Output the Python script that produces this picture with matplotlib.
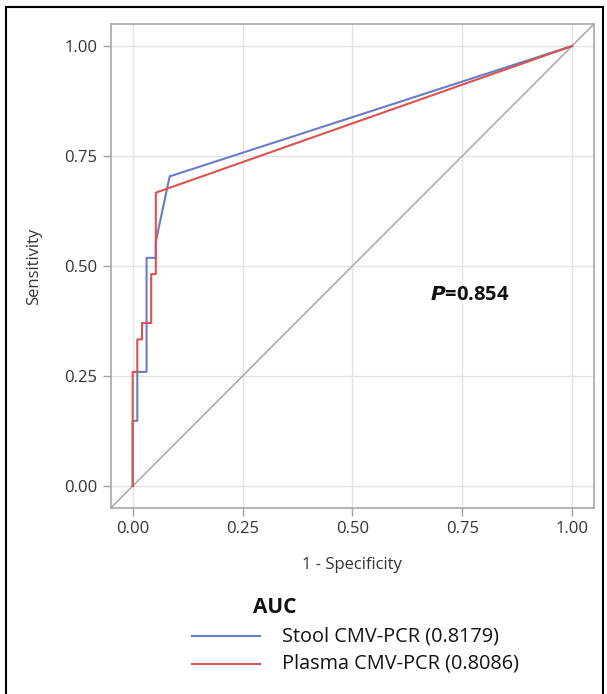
import matplotlib
matplotlib.use('Agg')
import matplotlib.pyplot as plt
from matplotlib.patches import Rectangle

# ROC points (1 - specificity, sensitivity)
stool_fpr = [0.0, 0.0, 0.0105, 0.0105, 0.0316, 0.0316, 0.0526, 0.0526, 0.0842, 1.0]
stool_tpr = [0.0, 0.1481, 0.1481, 0.2593, 0.2593, 0.5185, 0.5185, 0.5556, 0.7037, 1.0]
plasma_fpr = [0.0, 0.0, 0.0105, 0.0105, 0.0211, 0.0211, 0.0421, 0.0421, 0.0526, 0.0526, 1.0]
plasma_tpr = [0.0, 0.2593, 0.2593, 0.3333, 0.3333, 0.3704, 0.3704, 0.4815, 0.4815, 0.6667, 1.0]
stool_label = 'Stool CMV-PCR (0.8179)'
plasma_label = 'Plasma CMV-PCR (0.8086)'
ticks = [0.0, 0.25, 0.5, 0.75, 1.0]
tick_labels = ['0.00', '0.25', '0.50', '0.75', '1.00']
p_value = '0.854'

plt.rcParams['font.family'] = ['Open Sans', 'DejaVu Sans']

fig = plt.figure(figsize=(6.07, 6.94), dpi=100)
ax = fig.add_axes([0.1824, 0.268, 0.7962, 0.6974])

# grid + reference diagonal
ax.grid(True, color='#e3e3e3', linewidth=1)
ax.set_axisbelow(True)
ax.axline((0, 0), (1, 1), color='#a8a8a8', linewidth=1.1, zorder=1)

blue = '#6a7cc4'
red = '#d9534f'
ax.plot(stool_fpr, stool_tpr, color=blue, linewidth=1.5, zorder=3)
ax.plot(plasma_fpr, plasma_tpr, color=red, linewidth=1.5, zorder=3)

ax.set_xlim(-0.05, 1.05)
ax.set_ylim(-0.05, 1.05)
ax.set_xticks(ticks)
ax.set_xticklabels(tick_labels)
ax.set_yticks(ticks)
ax.set_yticklabels(tick_labels)
ax.tick_params(colors='#a0a0a0', labelcolor='#333333', labelsize=12, length=6, width=1)
for s in ax.spines.values():
    s.set_color('#a8a8a8')
    s.set_linewidth(1.2)

ax.set_xlabel('1 - Specificity', fontsize=12, color='#333333', labelpad=14)
ax.set_ylabel('Sensitivity', fontsize=12, color='#333333', labelpad=16)

ax.text(0.677, 0.435, r'$\bfit{P}$' + '=' + p_value, fontsize=14.5, fontweight='bold',
        ha='left', va='center', color='#111111')

# legend drawn by hand to match the layout
fig.text(0.453, 0.125, 'AUC', fontsize=15, fontweight='bold', ha='center', va='center', color='#111111')
fig.add_artist(plt.Line2D([0.316, 0.428], [0.0835, 0.0835], color=blue, linewidth=1.5))
fig.add_artist(plt.Line2D([0.316, 0.428], [0.0435, 0.0435], color=red, linewidth=1.5))
fig.text(0.464, 0.0835, stool_label, fontsize=14.3, ha='left', va='center', color='#111111')
fig.text(0.464, 0.0435, plasma_label, fontsize=14.3, ha='left', va='center', color='#111111')

# outer frame
fig.add_artist(Rectangle((6 / 607, -0.05), 597 / 607, 1.05 - 7 / 694, transform=fig.transFigure,
                         fill=False, edgecolor='black', linewidth=1.5))

plt.savefig('out.png', dpi=100)
